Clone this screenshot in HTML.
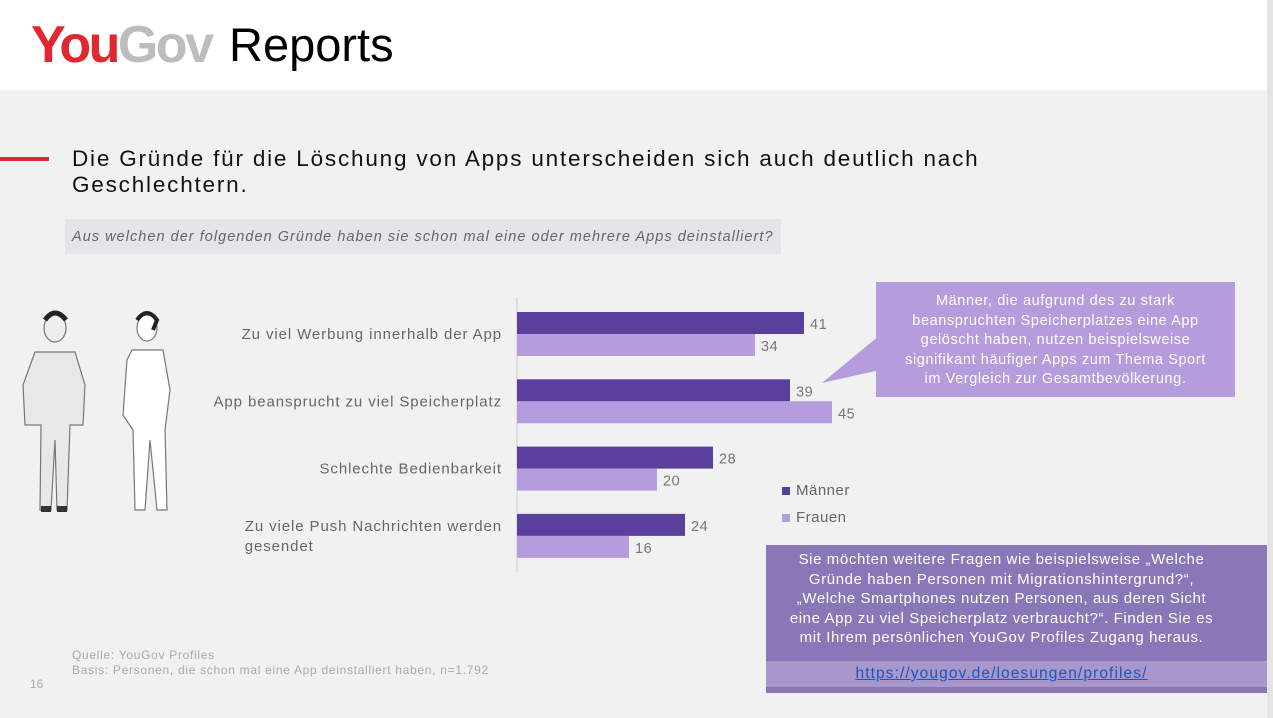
<!DOCTYPE html>
<html><head><meta charset="utf-8">
<style>
html,body{margin:0;padding:0;}
body{width:1273px;height:718px;position:relative;overflow:hidden;background:#fff;font-family:"Liberation Sans",sans-serif;}
.abs{position:absolute;}
</style></head>
<body>
<div class="abs" style="left:0;top:0;width:1267px;height:90px;background:#fff;"></div>
<div class="abs" style="left:31px;top:17px;font-size:52px;font-weight:bold;letter-spacing:-2.5px;line-height:56px;"><span style="color:#e0282e">You</span><span style="color:#bdbdbd">Gov</span></div>
<div class="abs" style="left:229px;top:19px;font-size:47px;color:#000;line-height:52px;">Reports</div>
<div class="abs" style="left:0;top:90px;width:1267px;height:628px;background:#f1f1f1;"></div>
<div class="abs" style="left:1267px;top:0;width:6px;height:718px;background:#e4e4e4;"></div>
<div class="abs" style="left:0;top:157px;width:49px;height:4px;background:#e0282e;"></div>
<div class="abs" style="left:72px;top:146px;font-size:22.5px;letter-spacing:1.8px;line-height:26px;color:#111;">Die Gründe für die Löschung von Apps unterscheiden sich auch deutlich nach<br>Geschlechtern.</div>
<div class="abs" style="left:65px;top:219px;width:716px;height:35px;background:#e5e5e9;"></div>
<div class="abs" style="left:72px;top:229px;font-size:14.5px;letter-spacing:1.03px;font-style:italic;color:#666;">Aus welchen der folgenden Gründe haben sie schon mal eine oder mehrere Apps deinstalliert?</div>

<svg class="abs" style="left:15px;top:300px" width="180" height="220">
 <g fill="#fff" stroke="#777" stroke-width="1.2">
  <ellipse cx="40" cy="28" rx="11" ry="14" fill="#eee"/>
  <path d="M20 52 L60 52 L70 85 L68 125 L55 125 L52 210 L42 210 L40 140 L36 210 L25 210 L26 125 L10 125 L8 85 Z" fill="#e8e8e8"/>
  <ellipse cx="132" cy="28" rx="10" ry="13"/>
  <path d="M117 50 L148 50 L155 90 L150 130 L152 210 L142 210 L135 140 L130 210 L120 210 L118 130 L108 115 L112 60 Z"/>
 </g>
 <path d="M30 20 Q40 6 51 20" stroke="#222" stroke-width="5" fill="none"/>
 <path d="M122 20 Q132 6 142 20 L138 30" stroke="#222" stroke-width="4" fill="none"/>
 <rect x="26" y="206" width="10" height="6" fill="#333"/><rect x="42" y="206" width="10" height="6" fill="#333"/>
</svg>

<svg class="abs" id="chart" style="left:0;top:0" width="1273" height="718"></svg>

<div class="abs" style="left:782px;top:482px;font-size:15px;letter-spacing:0.5px;color:#666;"><span style="display:inline-block;width:8px;height:8px;background:#5b3f9c;margin-right:6px;"></span>Männer</div>
<div class="abs" style="left:782px;top:509px;font-size:15px;letter-spacing:0.5px;color:#666;"><span style="display:inline-block;width:8px;height:8px;background:#b59cdd;margin-right:6px;"></span>Frauen</div>

<svg class="abs" style="left:0;top:0" width="1273" height="718"><polygon points="880,335 822,383 880,370" fill="#b59cdd"/></svg>
<div class="abs" style="left:876px;top:282px;width:359px;height:115px;background:#b59cdd;color:#fff;font-size:14.5px;letter-spacing:0.6px;line-height:19.5px;text-align:center;box-sizing:border-box;padding-top:10px;">Männer, die aufgrund des zu stark<br>beanspruchten Speicherplatzes eine App<br>gelöscht haben, nutzen beispielsweise<br>signifikant häufiger Apps zum Thema Sport<br>im Vergleich zur Gesamtbevölkerung.</div>

<div class="abs" style="left:766px;top:545px;width:501px;height:148px;background:#8a77b8;color:#fff;font-size:15px;letter-spacing:0.6px;line-height:19.5px;text-align:center;box-sizing:border-box;padding-top:5px;padding-right:30px;">Sie möchten weitere Fragen wie beispielsweise „Welche<br>Gründe haben Personen mit Migrationshintergrund?“,<br>„Welche Smartphones nutzen Personen, aus deren Sicht<br>eine App zu viel Speicherplatz verbraucht?“. Finden Sie es<br>mit Ihrem persönlichen YouGov Profiles Zugang heraus.</div>
<div class="abs" style="left:766px;top:661px;width:501px;height:26px;background:#a897cb;"></div>
<a class="abs" style="left:751px;top:665px;width:501px;text-align:center;font-size:15.5px;letter-spacing:1.1px;color:#1a56c4;text-decoration:underline;">https://yougov.de/loesungen/profiles/</a>

<div class="abs" style="left:72px;top:648px;font-size:12px;letter-spacing:0.7px;line-height:14.5px;color:#aaa;">Quelle: YouGov Profiles<br>Basis: Personen, die schon mal eine App deinstalliert haben, n=1.792</div>
<div class="abs" style="left:30px;top:677px;font-size:12px;color:#aaa;">16</div>

<script>
const categories = [["Zu viel Werbung innerhalb der App"],["App beansprucht zu viel Speicherplatz"],["Schlechte Bedienbarkeit"],["Zu viele Push Nachrichten werden","gesendet"]];
const menValues = [41, 39, 28, 24];
const womenValues = [34, 45, 20, 16];
const NS = "http://www.w3.org/2000/svg";
const svg = document.getElementById('chart');
const x0 = 517, pxPerUnit = 7.0;
const xScale = v => x0 + v * pxPerUnit;
const groupY = i => 312 + i * 67.3;
const barH = 22;
function mk(tag, attrs){const e=document.createElementNS(NS,tag);for(const k in attrs)e.setAttribute(k,attrs[k]);svg.appendChild(e);return e;}
const ax = mk('line',{x1:x0,x2:x0,y1:297,y2:572,stroke:'#ccc','stroke-width':1});


categories.forEach((lines, i) => {
  const y = groupY(i);
  const series = [[menValues[i], '#5b3f9c', 'men'], [womenValues[i], '#b59cdd', 'women']];
  series.forEach((s, j) => {
    const by = y + j * barH;
    const r = mk('rect',{x:x0,y:by,width:xScale(s[0])-x0,height:barH,fill:s[1]});
    
    
    const t = mk('text',{x:xScale(s[0])+6,y:by+17,'font-size':14.5,'letter-spacing':0.6,fill:'#777','font-family':'Liberation Sans, sans-serif'});
    t.textContent = s[0];
    
    
  });
  const midY = y + barH;
  let firstStart = null;
  lines.forEach((ln, k) => {
    const ty = midY + 5 + (k - (lines.length-1)/2) * 20;
    const t = mk('text',{x:502,y:ty,'text-anchor':'end','font-size':15,'letter-spacing':0.9,fill:'#666','font-family':'Liberation Sans, sans-serif'});
    t.textContent = ln;
    
    
    if (k === 0) { firstStart = t.getBBox().x; }
    else { t.setAttribute('text-anchor','start'); t.setAttribute('x', firstStart); }
  });
});
</script>
</body></html>
